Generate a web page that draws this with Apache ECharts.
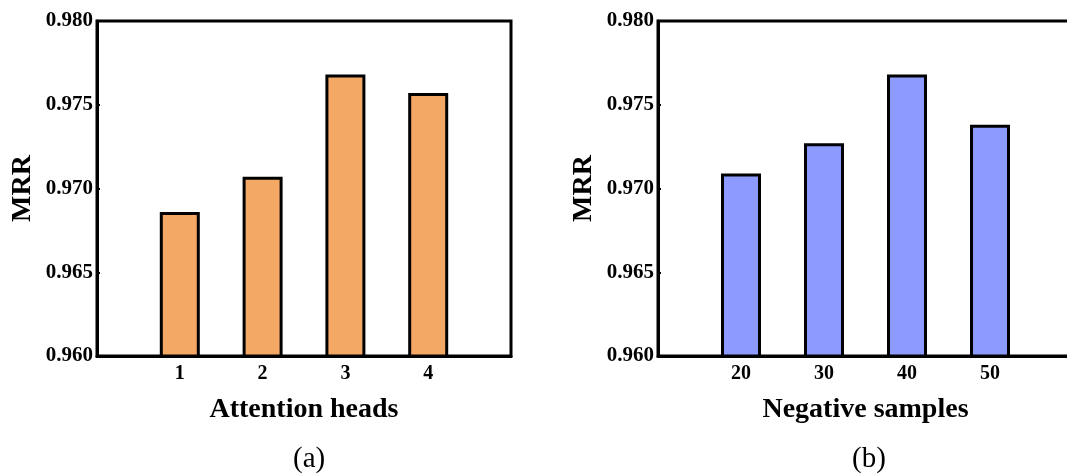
<!DOCTYPE html>
<html>
<head>
<meta charset="utf-8">
<style>html,body{margin:0;padding:0;background:#fff;}#c{width:1067px;height:474px;}</style>
<script src="https://cdn.jsdelivr.net/npm/echarts@6/dist/echarts.min.js"></script>
</head>
<body>
<div id="c"></div>
<script>
// Data
const headsCategories = [1, 2, 3, 4];
const headsMRR = [0.9686, 0.9707, 0.9768, 0.9757];
const negCategories = [20, 30, 40, 50];
const negMRR = [0.9709, 0.9727, 0.9768, 0.9738];
const yTicks = ['0.960', '0.965', '0.970', '0.975', '0.980'];
const panelLabels = ['(a)', '(b)'];
const xNames = ['Attention heads', 'Negative samples'];

const FONT = "'Liberation Serif','Times New Roman',serif";
const chart = echarts.init(document.getElementById('c'), null, {renderer: 'canvas'});

function xAxisCfg(idx, cats, min, max, interval) {
  return {
    type: 'value', gridIndex: idx, min: min, max: max, interval: interval,
    name: xNames[idx], nameLocation: 'middle', nameGap: 40,
    nameTextStyle: {fontFamily: FONT, fontSize: 28, fontWeight: 'bold', color: '#000'},
    axisLine: {show: true, lineStyle: {color: '#000', width: 3}},
    axisTick: {show: true, inside: true, length: 3, lineStyle: {color: '#000', width: 2},
      interval: 0},
    splitLine: {show: false},
    axisLabel: {fontFamily: FONT, fontSize: 20, fontWeight: 'bold', color: '#000', margin: 8,
      formatter: v => cats.indexOf(v) >= 0 ? String(v) : ''}
  };
}
function yAxisCfg(idx) {
  return {
    type: 'value', gridIndex: idx, min: 0.96, max: 0.98, interval: 0.005,
    name: 'MRR', nameLocation: 'middle', nameGap: 60,
    nameTextStyle: {fontFamily: FONT, fontSize: 28, fontWeight: 'bold', color: '#000'},
    axisLine: {show: true, lineStyle: {color: '#000', width: 3}},
    axisTick: {show: true, inside: true, length: 3, lineStyle: {color: '#000', width: 2}},
    splitLine: {show: false},
    axisLabel: {fontFamily: FONT, fontSize: 21, fontWeight: 'bold', color: '#000', margin: 4,
      formatter: v => { const s = v.toFixed(3); return yTicks.indexOf(s) >= 0 ? s : ''; }}
  };
}

chart.setOption({
  animation: false,
  backgroundColor: '#fff',
  grid: [
    {left: 97, top: 21, width: 414, height: 335, show: true, borderColor: '#000', borderWidth: 3,
      backgroundColor: 'transparent', outerBoundsMode: 'none', containLabel: false},
    {left: 658, top: 21, width: 415, height: 335, show: true, borderColor: '#000', borderWidth: 3,
      backgroundColor: 'transparent', outerBoundsMode: 'none', containLabel: false}
  ],
  xAxis: [xAxisCfg(0, headsCategories, 0, 5, 1), xAxisCfg(1, negCategories, 10, 60, 10)],
  yAxis: [yAxisCfg(0), yAxisCfg(1)],
  series: [
    {type: 'bar', xAxisIndex: 0, yAxisIndex: 0, barWidth: 40,
      data: headsCategories.map((c, i) => [c, headsMRR[i]]),
      itemStyle: {color: '#F4A865', borderColor: '#000', borderWidth: 3}},
    {type: 'bar', xAxisIndex: 1, yAxisIndex: 1, barWidth: 40,
      data: negCategories.map((c, i) => [c, negMRR[i]]),
      itemStyle: {color: '#8D9BFF', borderColor: '#000', borderWidth: 3}}
  ],
  graphic: [
    {type: 'text', left: 293, top: 445, style: {text: panelLabels[0], font: "29px " + FONT, fill: '#000'}},
    {type: 'text', left: 852, top: 445, style: {text: panelLabels[1], font: "29px " + FONT, fill: '#000'}}
  ]
});
</script>
</body>
</html>
